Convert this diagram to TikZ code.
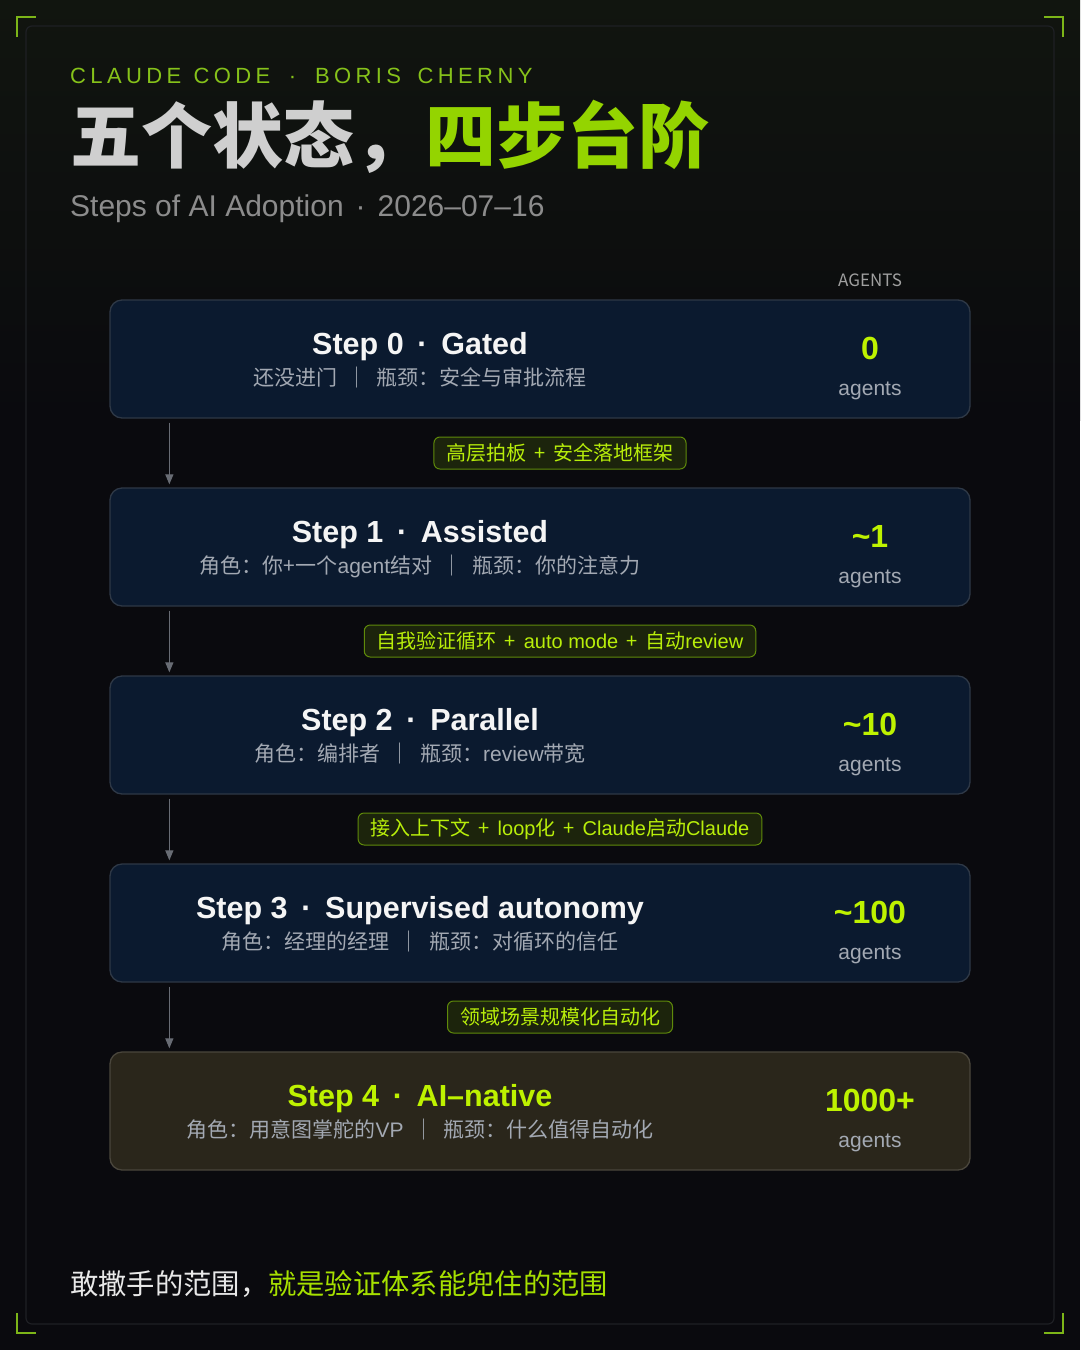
\documentclass[tikz,border=0pt]{standalone}
\usepackage{fontspec}
\usepackage{graphicx}
\setmainfont{Liberation Sans}
\newfontfamily\cjk{Noto Sans CJK SC}
\newfontfamily\latin{Liberation Sans}
\newfontfamily\spacedfont[LetterSpace=20]{Liberation Sans}
\newcommand{\plus}{\hspace{0.4em}+\hspace{0.4em}}
\newcommand{\vsep}{\hspace{0.45em}｜\hspace{0.45em}}
\usetikzlibrary{arrows.meta}
\definecolor{bg}{HTML}{0A0A0E}
\definecolor{topglow}{HTML}{11150F}
\definecolor{framecol}{HTML}{1E2024}
\definecolor{brk}{HTML}{7CB518}
\definecolor{hdrgreen}{HTML}{86C21A}
\definecolor{titlegray}{HTML}{CFCFCF}
\definecolor{titlelime}{HTML}{94D400}
\definecolor{subtgray}{HTML}{8C8C8C}
\definecolor{agentshdr}{HTML}{A0A0A0}
\definecolor{boxfill}{HTML}{0B1A2F}
\definecolor{boxline}{HTML}{2E3846}
\definecolor{finfill}{HTML}{2A261B}
\definecolor{finline}{HTML}{4A463C}
\definecolor{titlewhite}{HTML}{F5F5F5}
\definecolor{subgray}{HTML}{A3A9B3}
\definecolor{numlime}{HTML}{BEF200}
\definecolor{pillfill}{HTML}{1C240C}
\definecolor{pillline}{HTML}{5F8A0A}
\definecolor{pilltext}{HTML}{B8EE0A}
\definecolor{arrgray}{HTML}{686C74}
\definecolor{footwhite}{HTML}{E8E8E8}
\definecolor{footlime}{HTML}{A6E000}
\begin{document}
\begin{tikzpicture}[x=1pt,y=-1pt,
  stepbox/.style={draw=boxline, fill=boxfill, line width=1.3pt, rounded corners=12pt, minimum width=860pt, minimum height=118pt, inner sep=0pt},
  finalbox/.style={stepbox, draw=finline, fill=finfill},
  steptitle/.style={anchor=base, text=titlewhite, font=\fontsize{30.5}{36}\selectfont\bfseries, inner sep=0pt},
  stepsub/.style={anchor=center, text=subgray, font=\cjk\fontsize{21}{25}\selectfont, inner sep=0pt},
  stepnum/.style={anchor=base, text=numlime, font=\fontsize{32}{38}\selectfont\bfseries, inner sep=0pt},
  agentlbl/.style={anchor=base, text=subgray, font=\fontsize{21}{25}\selectfont, inner sep=0pt},
  pill/.style={draw=pillline, fill=pillfill, line width=1pt, rounded corners=6pt, text=pilltext, font=\cjk\fontsize{20}{24}\selectfont, inner xsep=12.5pt, inner ysep=0pt, minimum height=32pt},
  arr/.style={draw=arrgray, line width=1.2pt, -{Triangle[width=8pt,length=10pt]}},
  bracket/.style={draw=brk, line width=2.5pt}
]
% background
\fill[bg] (0,0) rectangle (1080,1350);
\shade[top color=topglow, bottom color=bg] (0,0) rectangle (1080,420);
\draw[framecol, line width=1.2pt, rounded corners=6pt] (26,26) rectangle (1054,1324);
% corner brackets
\draw[bracket] (17,37) -- (17,17) -- (36,17);
\draw[bracket] (1044,17) -- (1063,17) -- (1063,37);
\draw[bracket] (17,1313) -- (17,1333) -- (36,1333);
\draw[bracket] (1044,1333) -- (1063,1333) -- (1063,1313);

% header
\node[anchor=base west, text=hdrgreen, font=\spacedfont\fontsize{22}{26}\selectfont, inner sep=0pt] (hdr) at (70,83) {CLAUDE\hspace{0.55em}CODE\hspace{0.85em}·\hspace{0.85em}BORIS\hspace{0.75em}CHERNY};
\node[anchor=west, font=\cjk\bfseries\fontsize{71}{80}\selectfont, inner sep=0pt] (title) at (70,137) {\textcolor{titlegray}{五个状态，}\textcolor{titlelime}{四步台阶}};
\node[anchor=base west, text=subtgray, font=\fontsize{30}{36}\selectfont, inner sep=0pt] (subt) at (70,216) {Steps of AI Adoption\hspace{0.4em}·\hspace{0.4em}2026–07–16};
\node[anchor=base, text=agentshdr, font=\cjk\fontsize{17}{20}\selectfont, inner sep=0pt] (agh) at (870,286) {AGENTS};

% boxes
\node[stepbox] (b0) at (540,359) {};
\node[stepbox] (b1) at (540,547) {};
\node[stepbox] (b2) at (540,735) {};
\node[stepbox] (b3) at (540,923) {};
\node[finalbox] (b4) at (540,1111) {};

% box 0
\node[steptitle] (t0) at (420,354) {Step 0\hspace{0.45em}·\hspace{0.45em}Gated};
\node[stepsub] (s0) at (420,378) {还没进门\vsep 瓶颈：安全与审批流程};
\node[stepnum] (n0) at (870,359) {0};
\node[agentlbl] (a0) at (870,395) {agents};
% box 1
\node[steptitle] (t1) at (420,542) {Step 1\hspace{0.45em}·\hspace{0.45em}Assisted};
\node[stepsub] (s1) at (420,566) {角色：你+一个{\latin agent}结对\vsep 瓶颈：你的注意力};
\node[stepnum] (n1) at (870,547) {\textasciitilde1};
\node[agentlbl] (a1) at (870,583) {agents};
% box 2
\node[steptitle] (t2) at (420,730) {Step 2\hspace{0.45em}·\hspace{0.45em}Parallel};
\node[stepsub] (s2) at (420,754) {角色：编排者\vsep 瓶颈：{\latin review}带宽};
\node[stepnum] (n2) at (870,735) {\textasciitilde10};
\node[agentlbl] (a2) at (870,771) {agents};
% box 3
\node[steptitle] (t3) at (420,918) {Step 3\hspace{0.45em}·\hspace{0.45em}Supervised autonomy};
\node[stepsub] (s3) at (420,942) {角色：经理的经理\vsep 瓶颈：对循环的信任};
\node[stepnum] (n3) at (870,923) {\textasciitilde100};
\node[agentlbl] (a3) at (870,959) {agents};
% box 4
\node[steptitle, text=numlime] (t4) at (420,1106) {Step 4\hspace{0.45em}·\hspace{0.45em}AI–native};
\node[stepsub] (s4) at (420,1130) {角色：用意图掌舵的{\latin VP}\vsep 瓶颈：什么值得自动化};
\node[stepnum] (n4) at (870,1111) {1000+};
\node[agentlbl] (a4) at (870,1147) {agents};

% connectors
\draw[arr] ([xshift=60pt,yshift=-4pt]b0.south west) -- ([xshift=60pt,yshift=3pt]b1.north west);
\draw[arr] ([xshift=60pt,yshift=-4pt]b1.south west) -- ([xshift=60pt,yshift=3pt]b2.north west);
\draw[arr] ([xshift=60pt,yshift=-4pt]b2.south west) -- ([xshift=60pt,yshift=3pt]b3.north west);
\draw[arr] ([xshift=60pt,yshift=-4pt]b3.south west) -- ([xshift=60pt,yshift=3pt]b4.north west);

% pills
\node[pill] (p0) at (560,453) {高层拍板\plus 安全落地框架};
\node[pill] (p1) at (560,641) {自我验证循环\plus{\latin auto mode}\plus 自动{\latin review}};
\node[pill] (p2) at (560,829) {接入上下文\plus{\latin loop}化\plus{\latin Claude}启动{\latin Claude}};
\node[pill] (p3) at (560,1017) {领域场景规模化自动化};

% footer
\node[anchor=west, font=\cjk\fontsize{28.3}{34}\selectfont, inner sep=0pt] (foot) at (70,1284) {\textcolor{footwhite}{敢撒手的范围，}\textcolor{footlime}{就是验证体系能兜住的范围}};
\end{tikzpicture}
\end{document}
